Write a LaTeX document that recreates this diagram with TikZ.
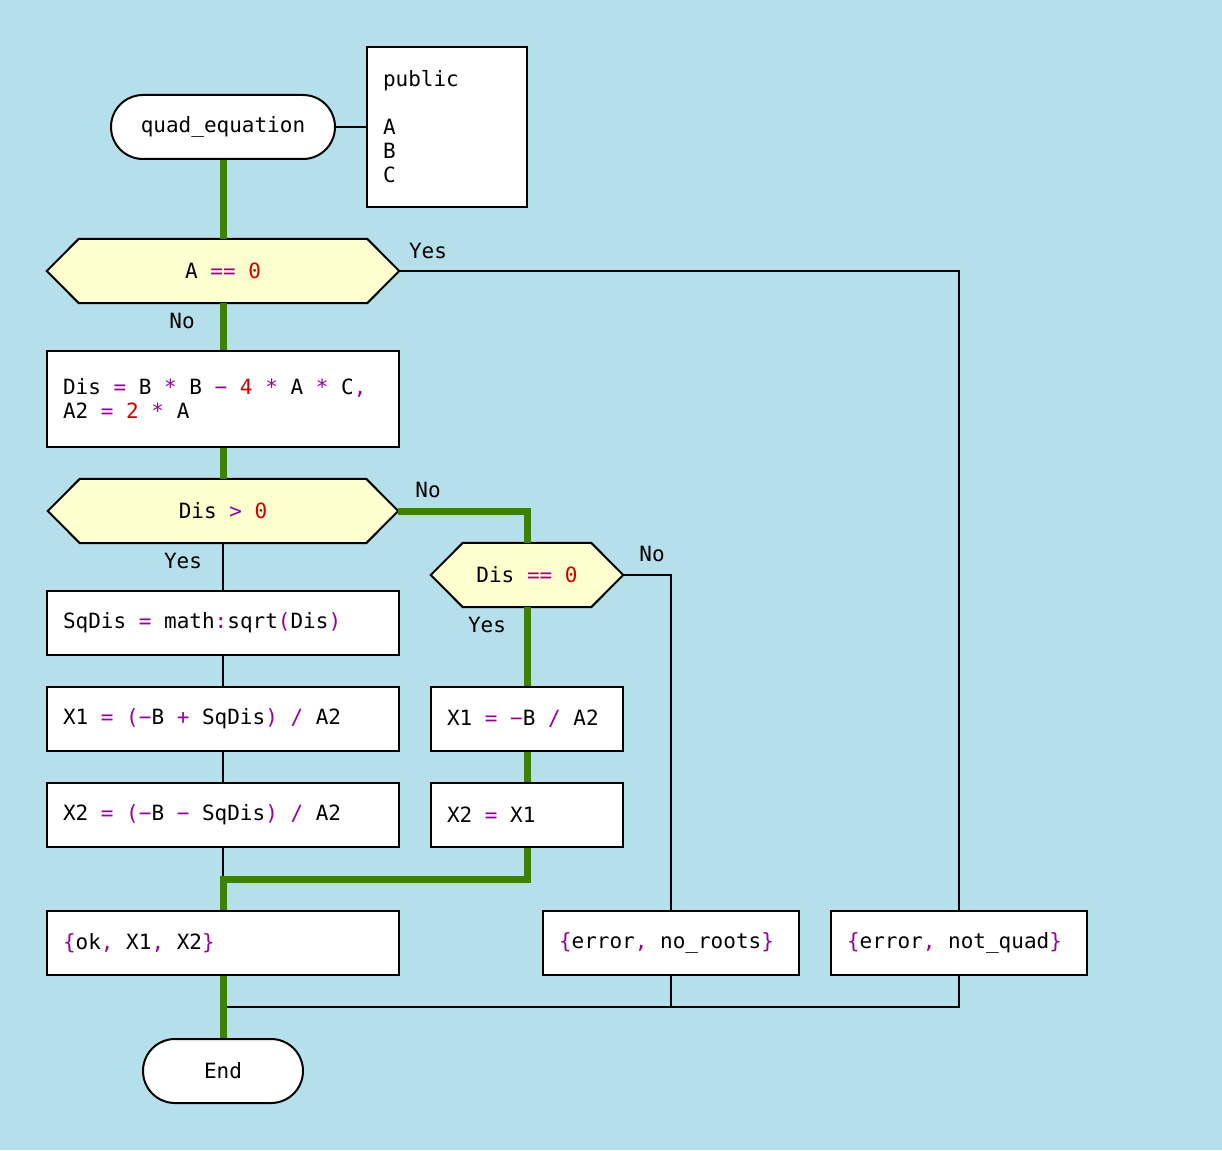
\documentclass[tikz,border=0pt]{standalone}
\usepackage{fontspec}
\setmonofont{DejaVu Sans Mono}
\usetikzlibrary{shapes.misc}
\definecolor{bgc}{RGB}{181,223,235}
\definecolor{flow}{RGB}{64,128,0}
\definecolor{condfill}{RGB}{255,255,208}
\definecolor{opc}{RGB}{153,0,153}
\definecolor{numc}{RGB}{204,0,0}
\newcommand{\opk}[1]{\textcolor{opc}{#1}}
\newcommand{\nmk}[1]{\textcolor{numc}{#1}}
\newcommand{\w}{\kern0.602em\relax}
\newcommand{\codefont}{\ttfamily\fontsize{21}{24}\selectfont}
\begin{document}
\begin{tikzpicture}[x=1pt,y=-1pt,
  font=\codefont,
  thin line/.style={draw=black, line width=2pt},
  flow line/.style={draw=flow, line width=7pt},
  actbox/.style={draw=black, line width=2pt, fill=white, rectangle,
     inner xsep=16pt, inner ysep=0pt, minimum height=64pt,
     text width=#1, align=left},
  termbox/.style={draw=black, line width=2pt, fill=white, rounded rectangle,
     inner sep=0pt, minimum height=64pt},
  hexframe/.style={rectangle, inner sep=0pt, minimum height=64pt},
  hexline/.style={draw=black, line width=2pt, fill=condfill, line join=miter},
  lbl/.style={inner sep=0pt}
]
\useasboundingbox (0,0) rectangle (1222,1150);
\fill[bgc] (0,0) rectangle (1222,1150);

% start and parameter box
\node[termbox, minimum width=224pt] (start) at (223,127) {quad\_equation};
\node[actbox=128pt, minimum height=160pt] (pub) at (447,127) {public\\[24pt]A\\B\\C};

% decision 1
\node[hexframe, minimum width=352pt] (h1) at (223,271) {};
\draw[hexline] (h1.west) -- ([xshift=32pt]h1.north west) -- ([xshift=-32pt]h1.north east)
  -- (h1.east) -- ([xshift=-32pt]h1.south east) -- ([xshift=32pt]h1.south west) -- cycle;
\node (h1t) at (h1.center) {A\w\opk{==}\w\nmk{0}};

\node[actbox=320pt, minimum height=96pt] (dis) at (223,399)
  {Dis\w\opk{=}\w B\w\opk{*}\w B\w\opk{−}\w\nmk{4}\w\opk{*}\w A\w\opk{*}\w C\opk{,}\\A2\w\opk{=}\w\nmk{2}\w\opk{*}\w A};

% decision 2
\node[hexframe, minimum width=350pt] (h2) at (223,511) {};
\draw[hexline] (h2.west) -- ([xshift=32pt]h2.north west) -- ([xshift=-32pt]h2.north east)
  -- (h2.east) -- ([xshift=-32pt]h2.south east) -- ([xshift=32pt]h2.south west) -- cycle;
\node (h2t) at (h2.center) {Dis\w\opk{>}\w\nmk{0}};

% decision 3
\node[hexframe, minimum width=192pt] (h3) at (527,575) {};
\draw[hexline] (h3.west) -- ([xshift=32pt]h3.north west) -- ([xshift=-32pt]h3.north east)
  -- (h3.east) -- ([xshift=-32pt]h3.south east) -- ([xshift=32pt]h3.south west) -- cycle;
\node (h3t) at (h3.center) {Dis\w\opk{==}\w\nmk{0}};

% action boxes
\node[actbox=320pt] (sq) at (223,623) {SqDis\w\opk{=}\w math\opk{:}sqrt\opk{(}Dis\opk{)}};
\node[actbox=320pt] (x1) at (223,719) {X1\w\opk{=}\w\opk{(−}B\w\opk{+}\w SqDis\opk{)}\w\opk{/}\w A2};
\node[actbox=320pt] (x2) at (223,815) {X2\w\opk{=}\w\opk{(−}B\w\opk{−}\w SqDis\opk{)}\w\opk{/}\w A2};
\node[actbox=160pt] (x1b) at (527,719) {X1\w\opk{=}\w\opk{−}B\w\opk{/}\w A2};
\node[actbox=160pt] (x2b) at (527,815) {X2\w\opk{=}\w X1};
\node[actbox=320pt] (ok) at (223,943) {\opk{\{}ok\opk{,}\w X1\opk{,}\w X2\opk{\}}};
\node[actbox=224pt] (noroots) at (671,943) {\opk{\{}error\opk{,}\w no\_roots\opk{\}}};
\node[actbox=224pt] (notquad) at (959,943) {\opk{\{}error\opk{,}\w not\_quad\opk{\}}};
\node[termbox, minimum width=160pt] (endn) at (223,1071) {End};

% labels
\node[lbl] (l1) at (428,251) {Yes};
\node[lbl] (l2) at (182,321) {No};
\node[lbl] (l3) at (428,490) {No};
\node[lbl] (l4) at (652,554) {No};
\node[lbl] (l5) at (183,561) {Yes};
\node[lbl] (l6) at (487,625) {Yes};

% coordinates
\coordinate (jn) at (223,879);
\coordinate (mg) at (223,1007);

% thin connectors
\draw[thin line] (start.east) -- (pub.west);
\draw[thin line] (h1.east) -| (notquad.north);
\draw[thin line] (h3.east) -| (noroots.north);
\draw[thin line] (h2.south) -- (sq.north);
\draw[thin line] (sq.south) -- (x1.north);
\draw[thin line] (x1.south) -- (x2.north);
\draw[thin line] (x2.south) -- (jn);
\draw[thin line] (notquad.south) |- (mg);
\draw[thin line] (noroots.south) -- (noroots.south |- mg);

% flow connectors
\draw[flow line] (start.south) -- (h1.north);
\draw[flow line] (h1.south) -- (dis.north);
\draw[flow line] (dis.south) -- (h2.north);
\draw[flow line] (h2.east) -| (h3.north);
\draw[flow line] (h3.south) -- (x1b.north);
\draw[flow line] (x1b.south) -- (x2b.north);
\draw[flow line] (x2b.south) |- (jn) -- (ok.north);
\draw[flow line] (ok.south) -- (endn.north);
\end{tikzpicture}
\end{document}
